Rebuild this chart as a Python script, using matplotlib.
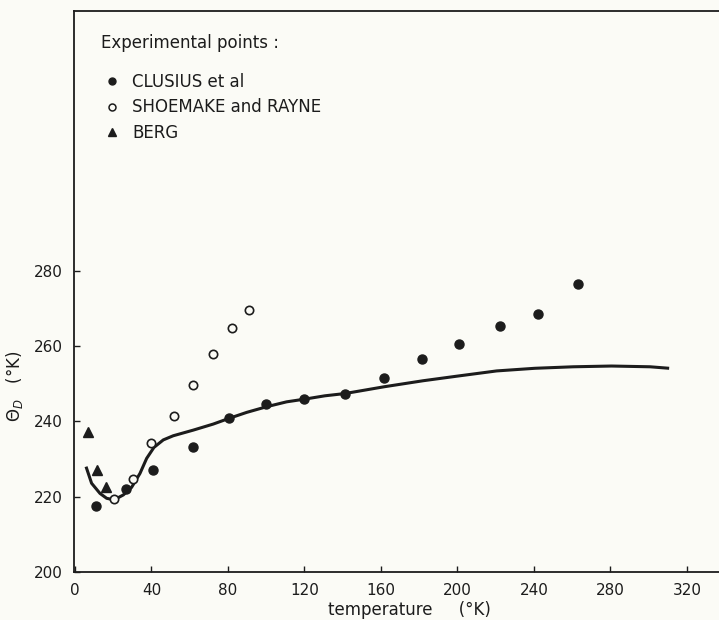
import matplotlib.pyplot as plt
from matplotlib.lines import Line2D

# 読み取った値 (温度 [K], Debye温度 [K])
clusius_t = [11, 26.5, 41, 61.5, 80.5, 100, 120, 141, 161.5, 181.5, 201, 222, 242, 263]
clusius_th = [217.6, 222.0, 227.1, 233.1, 240.8, 244.5, 245.9, 247.3, 251.4, 256.5, 260.5, 265.3, 268.4, 276.5]

shoemake_t = [20.5, 30.5, 40, 52, 61.5, 72, 82, 91]
shoemake_th = [219.4, 224.8, 234.2, 241.5, 249.7, 258.0, 264.7, 269.5]

berg_t = [7, 11.3, 16.2]
berg_th = [237.1, 227.1, 222.5]

# 理論曲線
curve_t = [5.8, 8.7, 13.1, 16.6, 20.5, 25.3, 29.6, 34.0, 37.5, 41.3, 46.2, 51.4, 61.9, 72.3,
           80.5, 89.8, 100.2, 110.7, 119.9, 130.7, 141.2, 161.7, 182.1, 199.6, 220.5,
           240.5, 260.6, 280.6, 300.7, 310.7]
curve_th = [228.0, 223.6, 220.9, 219.6, 219.2, 220.5, 222.5, 226.2, 230.2, 233.1, 235.1, 236.2,
            237.7, 239.3, 240.8, 242.4, 243.9, 245.2, 245.9, 246.8, 247.4, 249.2, 250.8, 252.0,
            253.4, 254.1, 254.5, 254.7, 254.5, 254.1]

x_ticks = [0, 40, 80, 120, 160, 200, 240, 280, 320]
y_ticks = [200, 220, 240, 260, 280]

ink = "#1c1c1c"
paper = "#fbfbf6"

fig = plt.figure(figsize=(7.19, 6.2), dpi=100, facecolor=paper)
# 右側の枠は画像の外まではみ出している
ax = fig.add_axes([0.1029, 0.0771, 0.919, 0.9052], facecolor=paper)

ax.plot(curve_t, curve_th, color=ink, lw=2.2, solid_capstyle="butt", zorder=2)
ax.plot(clusius_t, clusius_th, "o", ms=6.5, color=ink, mec=ink, zorder=3)
ax.plot(shoemake_t, shoemake_th, "o", ms=6, mfc=paper, mec=ink, mew=1.2, zorder=3)
ax.plot(berg_t, berg_th, "^", ms=7, color=ink, zorder=3)

ax.set_xlim(-0.5, 345)
ax.set_ylim(200, 348.9)
ax.set_xticks(x_ticks)
ax.set_yticks(y_ticks)
ax.tick_params(direction="in", length=4, width=1, colors=ink, labelsize=11, pad=8,
               top=False, right=False)
for side in ["left", "bottom", "top", "right"]:
    ax.spines[side].set_color(ink)
    ax.spines[side].set_linewidth(1.3)

ax.set_xlabel("temperature     (°K)", fontsize=12, color=ink, va="center")
ax.xaxis.set_label_coords(0.508, -0.0674)
ax.set_ylabel(r"$\Theta_D$   (°K)", fontsize=12, color=ink, va="center")
ax.yaxis.set_label_coords(-0.0893, 0.3318)

# 凡例
ax.text(101 / 719, 1 - 43 / 620, "Experimental points :", transform=fig.transFigure,
        fontsize=12, color=ink, va="center", ha="left")
handles = [
    Line2D([], [], ls="", marker="o", ms=5, color=ink),
    Line2D([], [], ls="", marker="o", ms=5, mfc=paper, mec=ink, mew=1.1),
    Line2D([], [], ls="", marker="^", ms=6, color=ink),
]
labels = ["CLUSIUS et al", "SHOEMAKE and RAYNE", "BERG"]
leg = ax.legend(handles, labels, loc="upper left", bbox_to_anchor=(104 / 719, 1 - 73 / 620),
                bbox_transform=fig.transFigure, frameon=False, fontsize=12,
                handlelength=1.0, handletextpad=0.7, labelspacing=0.45, borderpad=0,
                borderaxespad=0)
for t in leg.get_texts():
    t.set_color(ink)

plt.savefig("out.png", dpi=100, facecolor=paper)
